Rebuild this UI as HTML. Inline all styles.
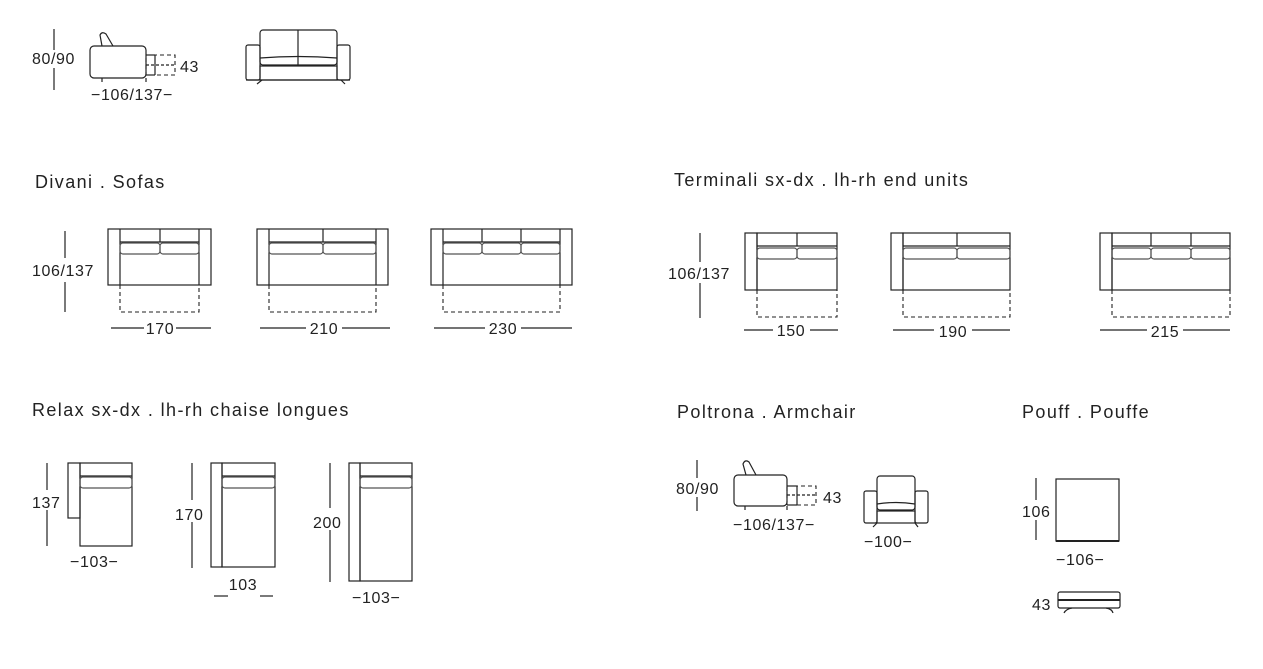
<!DOCTYPE html>
<html><head><meta charset="utf-8"><style>
body{margin:0;background:#fff;}
svg{display:block;font-family:"Liberation Sans",sans-serif;}
text{fill:#222;}
.t{font-size:18px;letter-spacing:1.4px;}
.d{font-size:16px;letter-spacing:0.6px;}
.s{fill:none;stroke:#222;stroke-width:1.2;}
.g{fill:none;stroke:#555;stroke-width:1.2;}
.da{fill:none;stroke:#222;stroke-width:1.1;stroke-dasharray:4 3;}
</style></head><body>
<svg width="1263" height="669" viewBox="0 0 1263 669">
<!-- top side view -->
<line class="s" x1="54" y1="29" x2="54" y2="50"/><line class="s" x1="54" y1="68" x2="54" y2="90"/>
<text class="d" x="32" y="64">80/90</text>
<path class="s" d="M102,46 L100,35 Q102,31 106,34 L113,46"/>
<rect class="s" x="90" y="46" width="56" height="32" rx="4"/>
<line class="s" x1="102" y1="78" x2="102" y2="82"/><line class="s" x1="146" y1="78" x2="146" y2="82"/>
<rect class="da" x="146" y="55" width="29" height="20"/>
<line class="s" x1="146" y1="55" x2="155" y2="55"/><line class="s" x1="146" y1="75" x2="155" y2="75"/>
<line class="s" x1="155" y1="55" x2="155" y2="75"/><line class="s" x1="146" y1="65" x2="175" y2="65" stroke-dasharray="3 2"/>
<text class="d" x="180" y="72">43</text>
<text class="d" x="91" y="100">−106/137−</text>
<!-- top front view -->
<rect class="s" x="246" y="45" width="14" height="35" rx="2"/><rect class="s" x="337" y="45" width="13" height="35" rx="2"/>
<rect class="s" x="260" y="30" width="77" height="35" rx="3"/>
<line class="s" x1="298" y1="30" x2="298" y2="65"/>
<path class="s" d="M260,58 Q298,55 337,58"/>
<rect class="s" x="260" y="66" width="77" height="14"/>
<path class="s" d="M257,84 L262,80 M341,80 L345,84"/><line class="s" x1="246" y1="80" x2="350" y2="80"/>

<text class="t" x="35" y="188">Divani . Sofas</text>
<text class="t" x="674" y="186">Terminali sx-dx . lh-rh end units</text>
<text class="t" x="32" y="416">Relax sx-dx . lh-rh chaise longues</text>
<text class="t" x="677" y="418">Poltrona . Armchair</text>
<text class="t" x="1022" y="418">Pouff . Pouffe</text>

<!-- sofas -->
<line class="s" x1="65" y1="231" x2="65" y2="258"/><line class="s" x1="65" y1="282" x2="65" y2="312"/>
<text class="d" x="32" y="276">106/137</text>
<g>
<rect class="s" x="108" y="229" width="103" height="56"/>
<line class="s" x1="120" y1="229" x2="120" y2="285"/><line class="s" x1="199" y1="229" x2="199" y2="285"/>
<line class="s" x1="120" y1="242" x2="199" y2="242"/><line class="s" x1="160" y1="229" x2="160" y2="242"/>
<rect class="g" x="120" y="243" width="40" height="11" rx="3"/><rect class="g" x="160" y="243" width="39" height="11" rx="3"/>
<path class="da" d="M120,285 V312 H199 V285"/>
<line class="s" x1="111" y1="328" x2="144" y2="328"/><line class="s" x1="176" y1="328" x2="211" y2="328"/>
<text class="d" x="160" y="334" text-anchor="middle">170</text>
</g>
<g>
<rect class="s" x="257" y="229" width="131" height="56"/>
<line class="s" x1="269" y1="229" x2="269" y2="285"/><line class="s" x1="376" y1="229" x2="376" y2="285"/>
<line class="s" x1="269" y1="242" x2="376" y2="242"/><line class="s" x1="323" y1="229" x2="323" y2="242"/>
<rect class="g" x="269" y="243" width="54" height="11" rx="3"/><rect class="g" x="323" y="243" width="53" height="11" rx="3"/>
<path class="da" d="M269,285 V312 H376 V285"/>
<line class="s" x1="260" y1="328" x2="306" y2="328"/><line class="s" x1="342" y1="328" x2="390" y2="328"/>
<text class="d" x="324" y="334" text-anchor="middle">210</text>
</g>
<g>
<rect class="s" x="431" y="229" width="141" height="56"/>
<line class="s" x1="443" y1="229" x2="443" y2="285"/><line class="s" x1="560" y1="229" x2="560" y2="285"/>
<line class="s" x1="443" y1="242" x2="560" y2="242"/><line class="s" x1="482" y1="229" x2="482" y2="242"/><line class="s" x1="521" y1="229" x2="521" y2="242"/>
<rect class="g" x="443" y="243" width="39" height="11" rx="3"/><rect class="g" x="482" y="243" width="39" height="11" rx="3"/><rect class="g" x="521" y="243" width="39" height="11" rx="3"/>
<path class="da" d="M443,285 V312 H560 V285"/>
<line class="s" x1="434" y1="328" x2="485" y2="328"/><line class="s" x1="521" y1="328" x2="572" y2="328"/>
<text class="d" x="503" y="334" text-anchor="middle">230</text>
</g>

<!-- terminali -->
<line class="s" x1="700" y1="233" x2="700" y2="262"/><line class="s" x1="700" y1="283" x2="700" y2="318"/>
<text class="d" x="668" y="279">106/137</text>
<g>
<rect class="s" x="745" y="233" width="12" height="57"/>
<rect class="s" x="757" y="233" width="80" height="57"/>
<line class="s" x1="757" y1="246" x2="837" y2="246"/><line class="s" x1="797" y1="233" x2="797" y2="246"/>
<rect class="g" x="757" y="248" width="40" height="11" rx="3"/><rect class="g" x="797" y="248" width="40" height="11" rx="3"/>
<path class="da" d="M757,290 V317 H837 V290"/>
<line class="s" x1="744" y1="330" x2="773" y2="330"/><line class="s" x1="810" y1="330" x2="838" y2="330"/>
<text class="d" x="791" y="336" text-anchor="middle">150</text>
</g>
<g>
<rect class="s" x="891" y="233" width="12" height="57"/>
<rect class="s" x="903" y="233" width="107" height="57"/>
<line class="s" x1="903" y1="246" x2="1010" y2="246"/><line class="s" x1="957" y1="233" x2="957" y2="246"/>
<rect class="g" x="903" y="248" width="54" height="11" rx="3"/><rect class="g" x="957" y="248" width="53" height="11" rx="3"/>
<path class="da" d="M903,290 V317 H1010 V290"/>
<line class="s" x1="893" y1="330" x2="934" y2="330"/><line class="s" x1="972" y1="330" x2="1010" y2="330"/>
<text class="d" x="953" y="337" text-anchor="middle">190</text>
</g>
<g>
<rect class="s" x="1100" y="233" width="12" height="57"/>
<rect class="s" x="1112" y="233" width="118" height="57"/>
<line class="s" x1="1112" y1="246" x2="1230" y2="246"/><line class="s" x1="1151" y1="233" x2="1151" y2="246"/><line class="s" x1="1191" y1="233" x2="1191" y2="246"/>
<rect class="g" x="1112" y="248" width="39" height="11" rx="3"/><rect class="g" x="1151" y="248" width="40" height="11" rx="3"/><rect class="g" x="1191" y="248" width="39" height="11" rx="3"/>
<path class="da" d="M1112,290 V317 H1230 V290"/>
<line class="s" x1="1100" y1="330" x2="1147" y2="330"/><line class="s" x1="1183" y1="330" x2="1230" y2="330"/>
<text class="d" x="1165" y="337" text-anchor="middle">215</text>
</g>

<!-- relax -->
<line class="s" x1="47" y1="463" x2="47" y2="490"/><line class="s" x1="47" y1="510" x2="47" y2="546"/>
<text class="d" x="32" y="508">137</text>
<rect class="s" x="68" y="463" width="12" height="55"/>
<rect class="s" x="80" y="463" width="52" height="83"/>
<line class="s" x1="80" y1="476" x2="132" y2="476"/>
<rect class="g" x="80" y="477" width="52" height="11" rx="3"/>
<text class="d" x="70" y="567">−103−</text>

<line class="s" x1="192" y1="463" x2="192" y2="500"/><line class="s" x1="192" y1="522" x2="192" y2="568"/>
<text class="d" x="175" y="520">170</text>
<rect class="s" x="211" y="463" width="11" height="104"/>
<rect class="s" x="222" y="463" width="53" height="104"/>
<line class="s" x1="222" y1="476" x2="275" y2="476"/>
<rect class="g" x="222" y="477" width="53" height="11" rx="3"/>
<text class="d" x="243" y="590" text-anchor="middle">103</text>
<line class="s" x1="214" y1="596" x2="228" y2="596"/><line class="s" x1="260" y1="596" x2="273" y2="596"/>

<line class="s" x1="330" y1="463" x2="330" y2="508"/><line class="s" x1="330" y1="530" x2="330" y2="582"/>
<text class="d" x="313" y="528">200</text>
<rect class="s" x="349" y="463" width="11" height="118"/>
<rect class="s" x="360" y="463" width="52" height="118"/>
<line class="s" x1="360" y1="476" x2="412" y2="476"/>
<rect class="g" x="360" y="477" width="52" height="11" rx="3"/>
<text class="d" x="352" y="603">−103−</text>

<!-- poltrona -->
<line class="s" x1="697" y1="460" x2="697" y2="478"/><line class="s" x1="697" y1="497" x2="697" y2="511"/>
<text class="d" x="676" y="494">80/90</text>
<path class="s" d="M746,475 L743,464 Q745,459 749,462 L756,475"/>
<rect class="s" x="734" y="475" width="53" height="31" rx="4"/>
<line class="s" x1="745" y1="506" x2="745" y2="510"/><line class="s" x1="787" y1="506" x2="787" y2="510"/>
<rect class="da" x="787" y="486" width="29" height="19"/>
<line class="s" x1="787" y1="486" x2="797" y2="486"/><line class="s" x1="787" y1="505" x2="797" y2="505"/>
<line class="s" x1="797" y1="486" x2="797" y2="505"/><line class="s" x1="787" y1="495" x2="816" y2="495" stroke-dasharray="3 2"/>
<text class="d" x="823" y="503">43</text>
<text class="d" x="733" y="530">−106/137−</text>

<rect class="s" x="864" y="491" width="13" height="32" rx="2"/><rect class="s" x="915" y="491" width="13" height="32" rx="2"/>
<rect class="s" x="877" y="476" width="38" height="34" rx="3"/>
<path class="s" d="M877,504 Q896,501 915,504"/>
<rect class="s" x="877" y="511" width="38" height="12"/>
<path class="s" d="M873,527 L877,523 M915,523 L918,527"/>
<text class="d" x="864" y="547">−100−</text>

<!-- pouff -->
<line class="s" x1="1036" y1="478" x2="1036" y2="500"/><line class="s" x1="1036" y1="520" x2="1036" y2="540"/>
<text class="d" x="1022" y="517">106</text>
<rect class="s" x="1056" y="479" width="63" height="62"/>
<line x1="1056" y1="541" x2="1119" y2="541" stroke="#222" stroke-width="2"/>
<text class="d" x="1056" y="565">−106−</text>
<text class="d" x="1032" y="610">43</text>
<rect class="s" x="1058" y="592" width="62" height="16" rx="2"/>
<line x1="1058" y1="600" x2="1120" y2="600" stroke="#222" stroke-width="2"/>
<path class="s" d="M1064,613 Q1066,609 1072,608 M1106,608 Q1112,609 1113,613"/>
</svg>
</body></html>
